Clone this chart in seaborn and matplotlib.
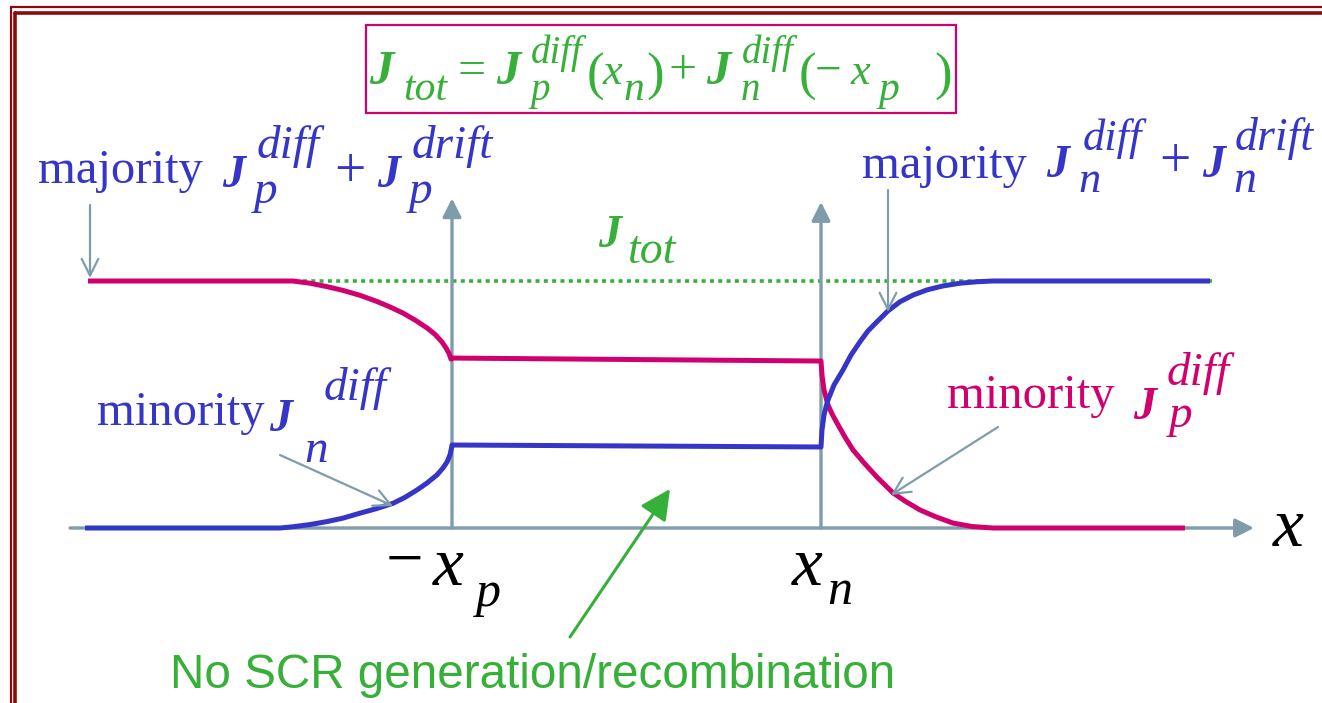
import numpy as np
import pandas as pd
import matplotlib.pyplot as plt
import seaborn as sns
from matplotlib.patches import Rectangle
from matplotlib.lines import Line2D

# position along the diode (a.u., same scale as the drawing) and current
# density normalised to J_tot
x_p_edge = 452
x_n_edge = 821

# hole current: majority on p side, constant in SCR, minority diffusion on n side
jp_x = [88, 293, 310, 326, 343, 360, 377, 390, 403, 415, 427, 435, 442, 446, 449, 451,
        452, 821, 822, 824, 828, 832, 837, 845, 853, 865, 877, 893, 905, 920, 936, 953,
        972, 993, 1185]
jp_val = [1.0, 1.0, 0.991, 0.978, 0.962, 0.942, 0.917, 0.895, 0.870, 0.842, 0.810, 0.784,
          0.753, 0.729, 0.707, 0.684, 0.688, 0.676, 0.619, 0.559, 0.498, 0.462, 0.425,
          0.368, 0.316, 0.259, 0.206, 0.142, 0.109, 0.073, 0.045, 0.020, 0.006, 0.0, 0.0]

# electron current: minority diffusion on p side, constant in SCR, majority on n side
jn_x = [85, 280, 293, 310, 327, 343, 360, 377, 393, 405, 417, 427, 437, 443, 447, 450,
        451.5, 452, 821, 822, 824, 826, 828, 834, 843, 851, 860, 868, 877, 888, 900, 913,
        927, 943, 960, 977, 993, 1210]
jn_val = [0.0, 0.0, 0.005, 0.014, 0.026, 0.040, 0.060, 0.079, 0.100, 0.124, 0.154, 0.182,
          0.215, 0.243, 0.267, 0.296, 0.324, 0.336, 0.328, 0.397, 0.457, 0.490, 0.518,
          0.579, 0.640, 0.700, 0.754, 0.798, 0.835, 0.879, 0.916, 0.943, 0.964, 0.980,
          0.991, 0.997, 1.0, 1.0]

jtot_x = [303, 1212]
jtot_val = [1.0, 1.0]

hole = pd.DataFrame({"x": jp_x, "J": jp_val})
elec = pd.DataFrame({"x": jn_x, "J": jn_val})

MAGENTA = "#d1006f"
BLUE = "#3535c8"
GREEN = "#36b038"
GREY = "#7f9cab"
BORDER = "#8b0a0a"

sns.set_theme(style="white")
plt.rcParams["font.family"] = ["Liberation Serif", "DejaVu Sans"]

W, H = 1322, 703
fig = plt.figure(figsize=(W / 100, H / 100), dpi=100)
ax = fig.add_axes([0, 0, 1, 1])


def at(x, y):
    # pixel position (from top-left) to figure fraction
    return x / W, 1 - y / H


def txt(x, y, s, color, size=27, italic=True, bold=False, **kw):
    fig.text(*at(x, y), s, color=color, fontsize=size, va="baseline",
             style="italic" if italic else "normal",
             weight="bold" if bold else "normal", **kw)


def jterm(x, y, sub, sup, color, size=33, ssize=34, dsup=35, dsub=32, up=29, down=16):
    # J with a subscript and a superscript stacked, like the slide's equation editor
    txt(x, y, "J", color, size, bold=True)
    if sup:
        txt(x + dsup, y - up, sup, color, ssize)
    if sub:
        txt(x + dsub, y + down, sub, color, ssize)


# frame of the slide
for x0, y0, lw in [(10.5, 7.2, 1.6), (14.7, 13.3, 2.6)]:
    fig.add_artist(Line2D([x0 / W, x0 / W], [0, 1 - y0 / H], transform=fig.transFigure,
                          color=BORDER, lw=lw))
    fig.add_artist(Line2D([x0 / W, 1], [1 - y0 / H, 1 - y0 / H], transform=fig.transFigure,
                          color=BORDER, lw=lw))

# J_tot level
ax.plot(jtot_x, jtot_val, color=GREEN, lw=2.6, linestyle=(0, (1.1, 1.2)),
        dash_capstyle="butt", zorder=1)

# axes: x axis and the two SCR edges
axis_kw = dict(arrowstyle="-|>", color=GREY, lw=2.4, mutation_scale=28,
               shrinkA=0, shrinkB=0)
ax.annotate("", xy=(1254, 0), xytext=(70, 0), arrowprops=axis_kw, zorder=2)
ax.annotate("", xy=(x_p_edge, 1.335), xytext=(x_p_edge, 0), arrowprops=axis_kw, zorder=2)
ax.annotate("", xy=(x_n_edge, 1.32), xytext=(x_n_edge, 0), arrowprops=axis_kw, zorder=2)

# current curves
sns.lineplot(data=hole, x="x", y="J", sort=False, estimator=None, color=MAGENTA,
             lw=3.6, ax=ax, zorder=4, solid_capstyle="butt")
sns.lineplot(data=elec, x="x", y="J", sort=False, estimator=None, color=BLUE,
             lw=3.6, ax=ax, zorder=4, solid_capstyle="butt")
# 1 J unit = 247 px, J = 0 at 528 px from the top
ax.set_xlim(0, W)
ax.set_ylim((528 - H) / 247, 528 / 247)
ax.axis("off")

# pointer arrows
ptr = dict(arrowstyle="->", color=GREY, lw=1.6, mutation_scale=30, shrinkA=0, shrinkB=0)
for tip, tail in [((90, 278), (90, 205)), ((888, 312), (888, 190)),
                  ((393, 506), (280, 455)), ((891, 495), (998, 427))]:
    ax.annotate("", xy=at(*tip), xytext=at(*tail), xycoords="figure fraction",
                textcoords="figure fraction", arrowprops=ptr, zorder=5)
ax.annotate("", xy=at(670, 489), xytext=at(570, 637), xycoords="figure fraction",
            textcoords="figure fraction",
            arrowprops=dict(arrowstyle="-|>", color=GREEN, lw=2.2, mutation_scale=46,
                            shrinkA=0, shrinkB=0), zorder=5)

# equation box: J_tot = J_p^diff(x_n) + J_n^diff(-x_p)
fig.add_artist(Rectangle(at(366, 113), 590 / W, 88 / H, transform=fig.transFigure,
                         fill=False, edgecolor=MAGENTA, lw=1.6))
txt(369, 84, "J", GREEN, 35, bold=True)
txt(403, 100, "tot", GREEN, 30)
txt(457, 84, "=", GREEN, 36, italic=False)
jterm(496, 84, "p", "diff", GREEN, 35, 28, dsup=35, dsub=34, up=21, down=16)
txt(587, 90, "(", GREEN, 38, italic=False)
txt(603, 84, "x", GREEN, 32)
txt(624, 100, "n", GREEN, 30)
txt(646, 90, ")", GREEN, 38, italic=False)
txt(669, 84, "+", GREEN, 36, italic=False)
jterm(706, 84, "n", "diff", GREEN, 35, 28, dsup=36, dsub=35, up=21, down=16)
txt(799, 90, "(", GREEN, 38, italic=False)
txt(815, 84, "\u2212", GREEN, 34, italic=False)
txt(851, 84, "x", GREEN, 32)
txt(878, 100, "p", GREEN, 30)
txt(934, 90, ")", GREEN, 38, italic=False)

# labels
txt(38, 183, "majority", BLUE, 35, italic=False)
jterm(222, 187, "p", "diff", BLUE)
txt(334, 187, "+", BLUE, 40, italic=False)
jterm(377, 187, "p", "drift", BLUE)

txt(862, 178, "majority", BLUE, 35, italic=False)
jterm(1046, 177, "n", "diff", BLUE, ssize=32, dsup=37, dsub=32, up=27, down=15)
txt(1159, 177, "+", BLUE, 40, italic=False)
jterm(1202, 177, "n", "drift", BLUE, ssize=33, dsup=33, dsub=31, up=27, down=15)

txt(97, 425, "minority", BLUE, 35, italic=False)
jterm(269, 431, "n", "diff", BLUE, dsup=55, dsub=35, up=31, down=31)

txt(947, 408, "minority", MAGENTA, 35, italic=False)
jterm(1133, 419, "p", "diff", MAGENTA, dsup=34, dsub=36, up=34, down=8)

txt(598, 247, "J", GREEN, 33, bold=True)
txt(628, 263, "tot", GREEN, 33)

# position marks
txt(386, 580, "\u2212", "black", 48, italic=False)
txt(433, 585, "x", "black", 50)
txt(476, 606, "p", "black", 36)
txt(792, 585, "x", "black", 50)
txt(827, 604, "n", "black", 36)
txt(1273, 546, "x", "black", 50)

fig.text(*at(170, 688), "No SCR generation/recombination", color=GREEN, fontsize=34.3,
         family=["Liberation Sans", "DejaVu Sans"], va="baseline")

fig.savefig("out.png", dpi=100)
